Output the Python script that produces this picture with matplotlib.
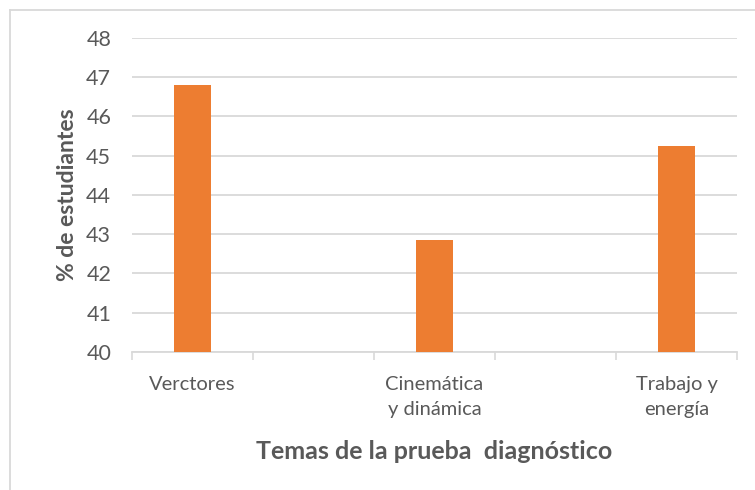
import matplotlib.pyplot as plt
from matplotlib.lines import Line2D

# survey results per diagnostic-test topic
topics = ["Verctores", "Cinemática\ny dinámica", "Trabajo y\nenergía"]
percent_students = [46.81, 42.86, 45.24]
y_ticks = [40, 41, 42, 43, 44, 45, 46, 47, 48]

plt.rcParams["font.family"] = ["Lato", "DejaVu Sans"]
text_color = "#595959"
grid_color = "#d9d9d9"

fig = plt.figure(figsize=(7.55, 4.9), dpi=100)
ax = fig.add_axes([132 / 755, 1 - 352 / 490, (737 - 132) / 755, (352 - 38) / 490])

# each topic sits in every other slot, leaving an empty slot between them
slots = [2 * i for i in range(len(topics))]
ax.bar(slots, percent_students, width=0.31, color="#ED7D31", zorder=3)

ax.set_xlim(-0.5, 2 * len(topics) - 1.5)
ax.set_ylim(y_ticks[0], y_ticks[-1])
ax.set_yticks(y_ticks)
ax.set_yticklabels([str(t) for t in y_ticks], fontsize=15.5, color=text_color)
ax.set_xticks(slots)
ax.set_xticklabels(topics, fontsize=14.5, color=text_color, linespacing=1.6)
ax.set_xticks([s - 0.5 for s in range(2 * len(topics))], minor=True)
ax.tick_params(axis="x", which="major", length=0, pad=17)
ax.tick_params(axis="x", which="minor", length=6, width=1.2, color=grid_color)
ax.tick_params(axis="y", length=0, pad=15)

ax.grid(axis="y", color=grid_color, linewidth=1.3, zorder=0)
for side in ("top", "right", "left"):
    ax.spines[side].set_visible(False)
ax.spines["bottom"].set_color(grid_color)
ax.spines["bottom"].set_linewidth(1.3)

ax.set_ylabel("% de estudiantes", fontsize=16.5, fontweight="bold",
              color=text_color, labelpad=6)
ax.set_xlabel("Temas de la prueba  diagnóstico", fontsize=18,
              fontweight="bold", color=text_color, labelpad=16)

# outer chart border, cropped at right and bottom
fig.add_artist(Line2D([10 / 755, 10 / 755], [0, 1 - 10 / 490],
                      transform=fig.transFigure, color=grid_color, linewidth=1.3))
fig.add_artist(Line2D([10 / 755, 1], [1 - 10 / 490, 1 - 10 / 490],
                      transform=fig.transFigure, color=grid_color, linewidth=1.3))

fig.savefig("out.png", dpi=100)
